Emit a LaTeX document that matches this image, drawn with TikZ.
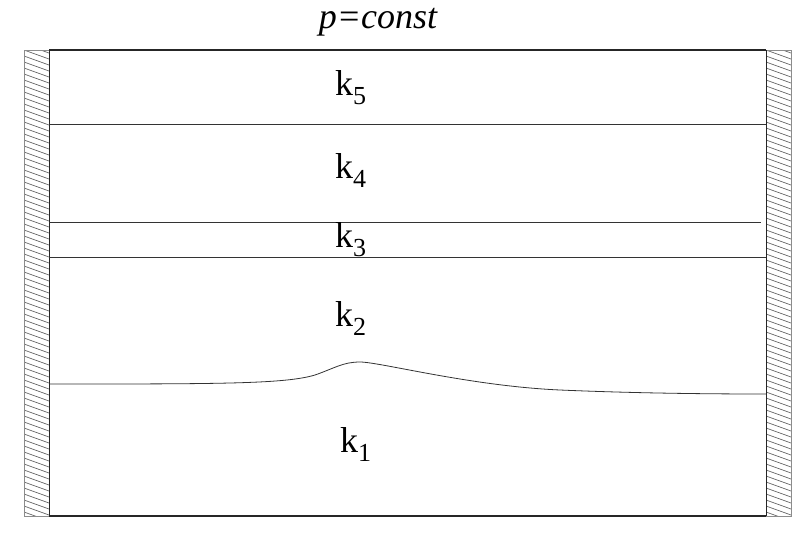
\documentclass[tikz,border=0pt]{standalone}
\usepackage{fontspec}
\setmainfont{Liberation Serif}
\usetikzlibrary{positioning}

% layer label with lowered index
\newcommand{\layerk}[1]{k\raisebox{-0.25em}{\fontsize{26}{26}\selectfont #1}}

\begin{document}
\begin{tikzpicture}[
    x=1pt, y=-1pt,
    wallline/.style={draw=black!45, line width=0.9pt},
    hatch/.style={draw=black!60, line width=0.7pt},
    boxline/.style={draw=black!85, line width=1pt},
    layerline/.style={draw=black!80, line width=0.8pt},
    label/.style={inner sep=0pt, anchor=base west, font=\fontsize{36}{36}\selectfont}
  ]
    \useasboundingbox (0,0) rectangle (804,539);

    % walls
    \foreach \xa/\xb in {24/49, 766/791}{
      \begin{scope}
        \clip (\xa,50) rectangle (\xb,516);
        \foreach \y in {38,44,...,530}
          \draw[hatch] (\xa,\y) -- (\xb,\y+9);
      \end{scope}
      \draw[wallline] (\xa,50) rectangle (\xb,516);
    }

    % vessel
    \draw[boxline, line width=1.8pt] (49,50) -- (766,50);
    \draw[boxline, line width=1.3pt] (49,516) -- (766,516);
    \draw[boxline] (49,50) -- (49,516);
    \draw[boxline] (766,50) -- (766,516);

    % layer boundaries
    \draw[layerline] (49,124) -- (766,124);
    \draw[layerline] (49,222) -- (761,222);
    \draw[layerline] (49,257) -- (766,257);
    \draw[layerline] (49,384) .. controls (220,384) and (285,384) .. (315,375)
      .. controls (335,368) and (343,362) .. (360,362)
      .. controls (380,362) and (470,386) .. (560,390)
      .. controls (630,393) and (700,394) .. (766,394);

    % labels
    \node[inner sep=0pt, anchor=base, font=\fontsize{36}{36}\selectfont\itshape]
      (title) at (378,28) {p=const};
    \node[label] (k5) at (335,95) {\layerk{5}};
    \node[label] (k4) at (335,178) {\layerk{4}};
    \node[label] (k3) at (335,247) {\layerk{3}};
    \node[label] (k2) at (335,326) {\layerk{2}};
    \node[label] (k1) at (340,452) {\layerk{1}};

  \end{tikzpicture}
\end{document}
